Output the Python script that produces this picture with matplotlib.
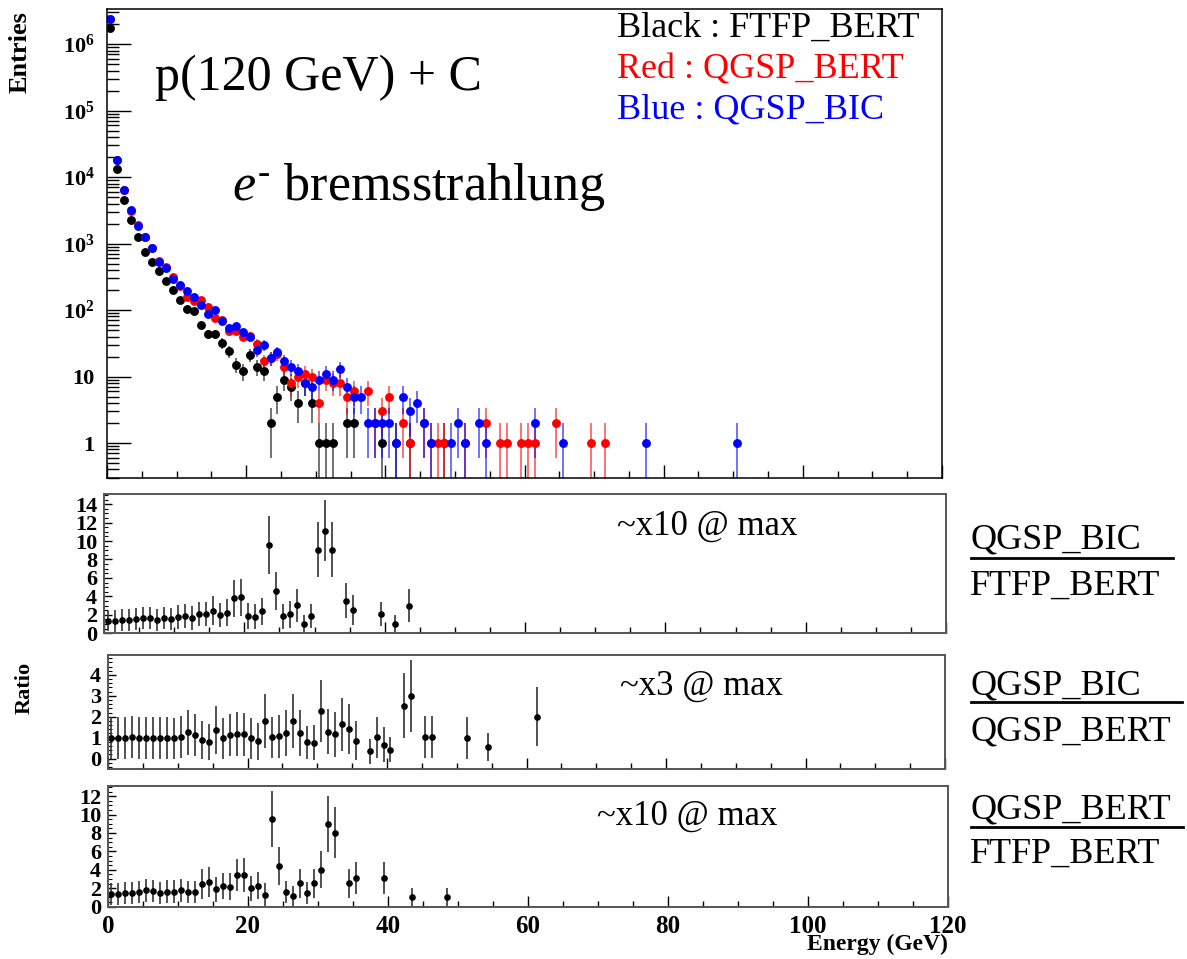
import numpy as np
import matplotlib
matplotlib.use("Agg")
import matplotlib.pyplot as plt
from matplotlib.ticker import MultipleLocator, LogLocator, NullFormatter, FixedLocator
from matplotlib.lines import Line2D

plt.rcParams["font.family"] = ["Liberation Serif", "DejaVu Serif"]
plt.rcParams["mathtext.fontset"] = "custom"
plt.rcParams["mathtext.rm"] = "Liberation Serif"
plt.rcParams["mathtext.bf"] = "Liberation Serif:bold"
plt.rcParams["mathtext.it"] = "Liberation Serif:italic"

# ---- bremsstrahlung photon spectra, 1 GeV bins starting at 0 GeV ----
ftfp_bert = [1720000, 13200, 4510, 2250, 1240, 753, 532, 390, 276, 200,
             141, 102, 97, 59, 43, 43, 32, 24, 15, 12,
             21, 14, 12, 2, 5, 9, 7, 4, 8, 4,
             1, 1, 1, 0, 2, 2, 0, 0, 0, 1,
             0, 1, 0, 1, 0, 0, 0, 0, 1]

qgsp_bert = [2380000, 18000, 6380, 3130, 1880, 1265, 865, 540, 445, 315,
             233, 155, 138, 141, 112, 77, 71, 48, 49, 40,
             41, 31, 17, 19, 22, 14, 8, 10, 11, 10,
             4, 9, 8, 8, 5, 6, 0, 6, 2, 3,
             5, 0, 2, 1, 0, 2, 1, 1, 1, 0,
             0, 1, 0, 0, 2, 0, 1, 1, 0, 1,
             1, 1, 0, 0, 2, 0, 0, 0, 0, 1,
             0, 1]

qgsp_bic = [2380000, 18000, 6380, 3190, 1830, 1265, 865, 532, 433, 293,
            238, 193, 155, 119, 87, 100, 68, 53, 57, 46,
            40, 25, 30, 19, 23, 17, 14, 12, 8, 7,
            9, 11, 9, 13, 7, 5, 5, 2, 2, 2,
            2, 1, 5, 3, 4, 2, 1, 0, 0, 1,
            2, 1, 0, 2, 1, 0, 0, 0, 0, 0,
            0, 2, 0, 0, 0, 1, 0, 0, 0, 0,
            0, 0, 0, 0, 0, 0, 0, 1, 0, 0,
            0, 0, 0, 0, 0, 0, 0, 0, 0, 0,
            1]

# ---- ratios (bin index, value, uncertainty) ----
bic_ftfp_bins = list(range(0, 33)) + [34, 35, 39, 41, 43]
bic_ftfp_vals = [1.33, 1.33, 1.44, 1.44, 1.55, 1.7, 1.7, 1.44, 1.62, 1.55,
                 1.8, 1.87, 1.7, 2.09, 2.09, 2.45, 1.98, 2.23, 3.82, 3.89,
                 1.87, 1.8, 2.38, 9.55, 4.58, 1.87, 2.05, 3.03, 1.0, 1.87,
                 9.08, 11.1, 9.08, 3.53, 2.52, 2.05, 1.0, 2.99]
bic_ftfp_errs = [1.12, 1.15, 1.15, 1.15, 1.15, 1.2, 1.2, 1.15, 1.2, 1.2,
                 1.3, 1.3, 1.3, 1.35, 1.35, 1.6, 1.35, 1.45, 2.0, 2.0,
                 1.37, 1.37, 1.5, 3.15, 2.1, 1.35, 1.45, 1.8, 1.0, 1.3,
                 3.0, 3.3, 3.0, 1.9, 1.6, 1.3, 1.0, 1.8]

bic_bert_bins = list(range(0, 36)) + [37, 38, 39, 40, 42, 43, 45, 46, 51, 54, 61]
bic_bert_vals = [1.0, 1.0, 1.0, 1.02, 1.0, 1.0, 1.0, 1.0, 1.0, 0.96,
                 1.02, 1.25, 1.12, 0.88, 0.8, 1.36, 0.96, 1.14, 1.18, 1.15,
                 0.96, 0.83, 1.79, 1.02, 1.06, 1.23, 1.79, 1.23, 0.77, 0.75,
                 2.27, 1.28, 1.15, 1.63, 1.41, 0.86,
                 0.35, 1.02, 0.67, 0.43, 2.53, 3.0, 1.02, 1.02, 1.0, 0.54, 2.0]
bic_bert_errs = [1.0, 1.0, 1.0, 1.0, 1.0, 1.0, 1.0, 1.0, 1.0, 1.0,
                 1.0, 1.07, 1.0, 0.9, 0.85, 1.15, 0.96, 1.0, 1.05, 1.05,
                 0.98, 0.88, 1.3, 0.98, 1.02, 1.1, 1.3, 1.1, 0.8, 0.83,
                 1.5, 1.07, 1.06, 1.28, 1.18, 0.93,
                 0.6, 0.98, 0.85, 0.6, 1.55, 1.72, 1.0, 1.0, 1.0, 0.66, 1.4]

bert_ftfp_bins = list(range(0, 33)) + [34, 35, 39, 43, 48]
bert_ftfp_vals = [1.37, 1.37, 1.45, 1.45, 1.56, 1.74, 1.66, 1.45, 1.63, 1.63,
                  1.74, 1.56, 1.56, 2.42, 2.71, 1.88, 2.24, 2.17, 3.4, 3.47,
                  1.99, 2.28, 1.27, 9.51, 4.45, 1.56, 1.19, 2.53, 1.45, 2.53,
                  3.98, 8.97, 8.03, 2.53, 3.07, 3.07, 1.01, 1.01]
bert_ftfp_errs = [1.16, 1.16, 1.17, 1.17, 1.18, 1.2, 1.2, 1.18, 1.2, 1.2,
                  1.2, 1.18, 1.18, 1.63, 1.63, 1.37, 1.38, 1.45, 1.74, 1.85,
                  1.34, 1.44, 1.26, 3.04, 2.06, 1.22, 1.09, 1.56, 1.19, 1.56,
                  2.02, 3.03, 2.75, 1.56, 1.74, 1.74, 0.98, 1.0]

energy_ticks = [0, 20, 40, 60, 80, 100, 120]

W, H = 1187, 959
fig = plt.figure(figsize=(W / 100, H / 100), dpi=100)


def box(left, top, right, bottom):
    return [left / W, 1 - bottom / H, (right - left) / W, (bottom - top) / H]


def ftext(x, y, s, **kw):
    kw.setdefault("va", "baseline")
    return fig.text(x / W, 1 - y / H, s, **kw)


# ---------------- spectrum panel ----------------
ax = fig.add_axes(box(107, 9, 942, 478))
for counts, col in ((ftfp_bert, "black"), (qgsp_bert, "#ff0000"), (qgsp_bic, "#0000ff")):
    n = np.asarray(counts, dtype=float)
    x = np.arange(len(n)) + 0.5
    keep = n > 0
    eb = ax.errorbar(x[keep], n[keep], yerr=np.sqrt(n[keep]), fmt="o", color=col,
                     ms=6.4, mew=0, ecolor=col, elinewidth=1.3, capsize=2.2,
                     capthick=1.0)
    for part in eb[1] + eb[2]:
        part.set_alpha(0.6)
ax.set_yscale("log", nonpositive="clip")
ax.set_xlim(0, 120)
ax.set_ylim(0.298, 3.37e6)
ax.xaxis.set_major_locator(MultipleLocator(20))
ax.xaxis.set_minor_locator(MultipleLocator(5))
ax.set_xticklabels([])
ax.yaxis.set_major_locator(FixedLocator([1, 10, 1e2, 1e3, 1e4, 1e5, 1e6]))
ax.yaxis.set_minor_locator(LogLocator(base=10, subs=np.arange(2, 10)))
ax.yaxis.set_minor_formatter(NullFormatter())
ax.set_yticklabels(["1", "10", r"$\mathbf{10^{2}}$", r"$\mathbf{10^{3}}$",
                    r"$\mathbf{10^{4}}$", r"$\mathbf{10^{5}}$", r"$\mathbf{10^{6}}$"])
ax.tick_params(axis="x", which="major", direction="in", length=9.5, width=1.0)
ax.tick_params(axis="x", which="minor", direction="in", length=5, width=1.0)
ax.tick_params(axis="y", which="major", direction="in", length=17, width=1.0,
               labelsize=16, pad=9)
ax.tick_params(axis="y", which="minor", direction="in", length=8.5, width=1.0)
for lab in ax.get_yticklabels():
    lab.set_fontweight("bold")
for sp in ax.spines.values():
    sp.set_linewidth(1.1)

ftext(20, 52, "Entries", rotation=90, fontsize=19, fontweight="bold",
      ha="center", va="center")
ftext(155, 90, "p(120 GeV) + C", fontsize=36)
ftext(232, 200, r"$e^{\text{-}}$ bremsstrahlung", fontsize=37.5)
ftext(617, 37, "Black : FTFP_BERT", fontsize=26, color="black")
ftext(617, 78, "Red : QGSP_BERT", fontsize=26, color="#ff0000")
ftext(617, 118, "Blue : QGSP_BIC", fontsize=26, color="#0000ff")


# ---------------- ratio panels ----------------
def ratio_panel(rect, bins, vals, errs, ylim, yticks, minor, label_x, label_y, note,
                numer, denom, num_y, line_y, line_x1, den_y, xlabels=False):
    a = fig.add_axes(box(*rect))
    x = np.asarray(bins) + 0.5
    a.errorbar(x, vals, yerr=errs, fmt="o", color="black", ms=4.8, mew=0,
               ecolor="#333333", elinewidth=1.2, capsize=2.0, capthick=1.0)
    a.set_xlim(0, 120)
    a.set_ylim(*ylim)
    a.xaxis.set_major_locator(FixedLocator(energy_ticks))
    a.xaxis.set_minor_locator(MultipleLocator(5))
    a.yaxis.set_major_locator(FixedLocator(yticks))
    a.yaxis.set_minor_locator(MultipleLocator(minor))
    a.tick_params(axis="x", which="major", direction="in", length=8, width=1.0,
                  labelsize=18, pad=6)
    a.tick_params(axis="x", which="minor", direction="in", length=4.5, width=1.0)
    a.tick_params(axis="y", which="major", direction="in", length=6, width=1.0,
                  labelsize=16, pad=5)
    a.tick_params(axis="y", which="minor", direction="in", length=3, width=0.8)
    if not xlabels:
        a.set_xticklabels([])
    for lab in a.get_xticklabels() + a.get_yticklabels():
        lab.set_fontweight("bold")
    for sp in a.spines.values():
        sp.set_linewidth(1.4)
        sp.set_color("#555555")
    ftext(label_x, label_y, note, fontsize=25, ha="center")
    ftext(970, num_y, numer, fontsize=26)
    fig.add_artist(Line2D([971 / W, line_x1 / W], [1 - line_y / H, 1 - line_y / H],
                          color="black", lw=2.0))
    ftext(970, den_y, denom, fontsize=26)
    return a


ratio_panel((104, 494, 946, 633.3), bic_ftfp_bins, bic_ftfp_vals, bic_ftfp_errs,
            (0, 15.1), [0, 2, 4, 6, 8, 10, 12, 14], 0.5, 707, 535, "~x10 @ max",
            "QGSP_BIC", "FTFP_BERT", 548, 557.7, 1173, 595)
ratio_panel((108, 655, 945, 769), bic_bert_bins, bic_bert_vals, bic_bert_errs,
            (-0.5, 4.95), [0, 1, 2, 3, 4], 0.2, 701, 695, "~x3 @ max",
            "QGSP_BIC", "QGSP_BERT", 695, 701.7, 1182, 740)
ratio_panel((108, 786, 947.5, 906.5), bert_ftfp_bins, bert_ftfp_vals,
            bert_ftfp_errs, (0, 13.1), [0, 2, 4, 6, 8, 10, 12], 0.5, 687, 825,
            "~x10 @ max", "QGSP_BERT", "FTFP_BERT", 818, 826.7, 1183, 863,
            xlabels=True)

ftext(25, 688, "Ratio", rotation=90, fontsize=16, fontweight="bold",
      ha="center", va="center")
ftext(948, 950, "Energy (GeV)", fontsize=17, fontweight="bold", ha="right")

fig.savefig("out.png", dpi=100, facecolor="white")
